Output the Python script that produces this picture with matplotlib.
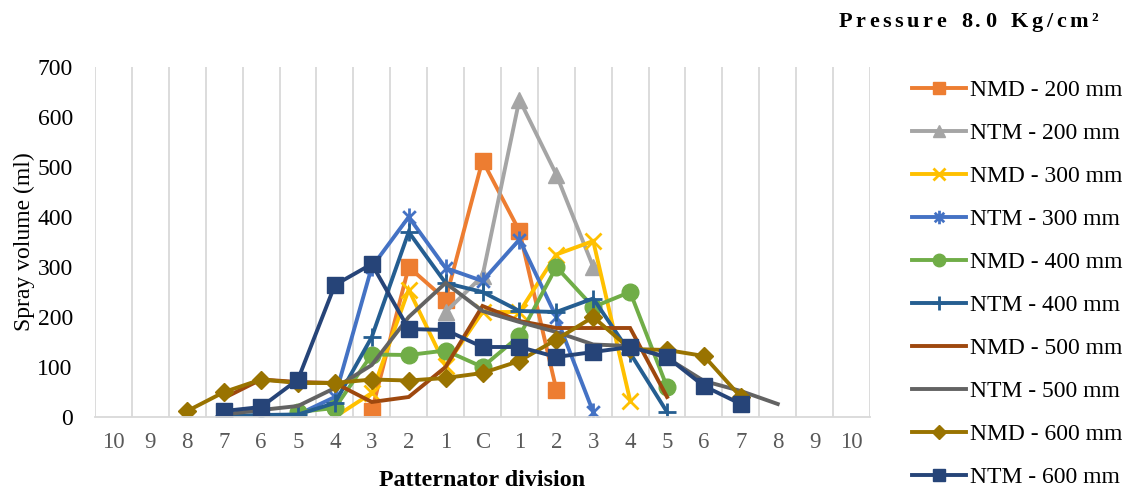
import numpy as np
import matplotlib.pyplot as plt
from matplotlib.path import Path
from matplotlib.transforms import offset_copy

nan = np.nan

# Patternator divisions, left side -> centre -> right side
divisions = ["10", "9", "8", "7", "6", "5", "4", "3", "2", "1", "C",
             "1", "2", "3", "4", "5", "6", "7", "8", "9", "10"]

#                 10L  9L   8L   7L   6L   5L   4L   3L   2L   1L   C    1R   2R   3R   4R   5R   6R   7R   8R   9R   10R
nmd_200 = [nan, nan, nan, nan, nan, nan, nan, 12, 300, 235, 513, 372, 55, nan, nan, nan, nan, nan, nan, nan, nan]
ntm_200 = [nan, nan, nan, nan, nan, nan, nan, nan, nan, 210, 282, 635, 485, 300, nan, nan, nan, nan, nan, nan, nan]
nmd_300 = [nan, nan, nan, nan, nan, nan, 0, 48, 255, 102, 210, 210, 325, 352, 33, nan, nan, nan, nan, nan, nan]
ntm_300 = [nan, nan, nan, 0, 2, 5, 40, 300, 400, 298, 272, 355, 200, 10, nan, nan, nan, nan, nan, nan, nan]
nmd_400 = [nan, nan, nan, nan, nan, 10, 18, 125, 124, 133, 100, 162, 300, 220, 250, 60, nan, nan, nan, nan, nan]
ntm_400 = [nan, nan, nan, 2, 4, 5, 28, 160, 370, 268, 250, 212, 210, 237, 128, 10, nan, nan, nan, nan, nan]
nmd_500 = [nan, nan, nan, 38, 75, 70, 68, 30, 40, 100, 222, 192, 178, 178, 178, 40, nan, nan, nan, nan, nan]
ntm_500 = [nan, nan, nan, 5, 14, 22, 58, 104, 200, 268, 212, 190, 170, 145, 142, 118, 72, 52, 26, nan, nan]
nmd_600 = [nan, nan, 12, 50, 75, 68, 68, 75, 73, 78, 88, 112, 155, 200, 136, 134, 122, 40, nan, nan, nan]
ntm_600 = [nan, nan, nan, 12, 20, 75, 264, 306, 176, 174, 140, 140, 120, 130, 140, 120, 62, 26, nan, nan, nan]

labels = ["NMD - 200 mm", "NTM - 200 mm", "NMD - 300 mm", "NTM - 300 mm", "NMD - 400 mm",
          "NTM - 400 mm", "NMD - 500 mm", "NTM - 500 mm", "NMD - 600 mm", "NTM - 600 mm"]
series = [nmd_200, ntm_200, nmd_300, ntm_300, nmd_400, ntm_400, nmd_500, ntm_500, nmd_600, ntm_600]

# Office style star: an x with a vertical bar through it
star = Path([(0, -1), (0, 1), (-0.7, -0.7), (0.7, 0.7), (-0.7, 0.7), (0.7, -0.7)],
            [Path.MOVETO, Path.LINETO, Path.MOVETO, Path.LINETO, Path.MOVETO, Path.LINETO])

styles = [
    dict(color="#ED7D31", marker="s", ms=11),
    dict(color="#A5A5A5", marker="^", ms=12),
    dict(color="#FFC000", marker="x", ms=11, mew=2),
    dict(color="#4472C4", marker=star, ms=13, mew=2),
    dict(color="#70AD47", marker="o", ms=12),
    dict(color="#255E91", marker="+", ms=13, mew=2),
    dict(color="#9E480E", marker=None),
    dict(color="#636363", marker=None),
    dict(color="#997300", marker="D", ms=9),
    dict(color="#264478", marker="s", ms=12),
]

plt.rcParams["font.family"] = ["Liberation Serif", "DejaVu Serif"]

fig = plt.figure(figsize=(11.33, 4.91), dpi=100)
ax = fig.add_axes([95 / 1133, 74 / 491, 775 / 1133, 350 / 491])

x = np.arange(len(divisions))
for vals, lab, st in zip(series, labels, styles):
    ax.plot(x, vals, label=lab, lw=2.8, solid_joinstyle="miter", **st)

ax.set_xlim(-0.5, len(divisions) - 0.5)
ax.set_ylim(0, 700)
ax.set_yticks(range(0, 701, 100))
ax.set_xticks(x)
ax.set_xticklabels(divisions)
ax.set_xticks(np.arange(-0.5, len(divisions), 1), minor=True)
ax.grid(True, which="minor", axis="x", color="#D9D9D9", lw=1.3)
ax.tick_params(which="both", length=0)
ax.tick_params(axis="x", colors="#595959", labelsize=16.5, pad=11)
ax.tick_params(axis="y", labelsize=17, pad=16)
for side in ["top", "right", "left"]:
    ax.spines[side].set_visible(False)
ax.spines["bottom"].set_color("#D9D9D9")
ax.spines["bottom"].set_linewidth(1.3)

ax.set_ylabel("Spray volume (ml)", fontsize=17, labelpad=2)
ax.set_xlabel("Patternator division", fontsize=17.3, fontweight="bold", labelpad=12)

# letter-spaced title, drawn one character at a time
title = "Pressure 8.0 Kg/cm²"
renderer = fig.canvas.get_renderer()
tkw = dict(fontsize=16, fontweight="bold", va="baseline", ha="left")
widths = []
for ch in title:
    t = fig.text(0, 0, ch, **tkw)
    widths.append(t.get_window_extent(renderer).width if ch != " " else 8)
    t.remove()
track = 3.5
total = sum(widths) + track * (len(title) - 1)
xpos = 1098 - total
for ch, w in zip(title, widths):
    if ch != " ":
        fig.text(0, 1 - 27 / 491, ch,
                 transform=offset_copy(fig.transFigure, fig=fig, x=xpos, units="dots"), **tkw)
    xpos += w + track

fig.legend(loc="upper left", bbox_to_anchor=(903 / 1133, 1 - 70 / 491), frameon=False,
           fontsize=17, handlelength=2.25, handletextpad=0.2, labelspacing=0.91,
           borderaxespad=0, markerscale=0.75)

fig.savefig("out.png", dpi=100)
